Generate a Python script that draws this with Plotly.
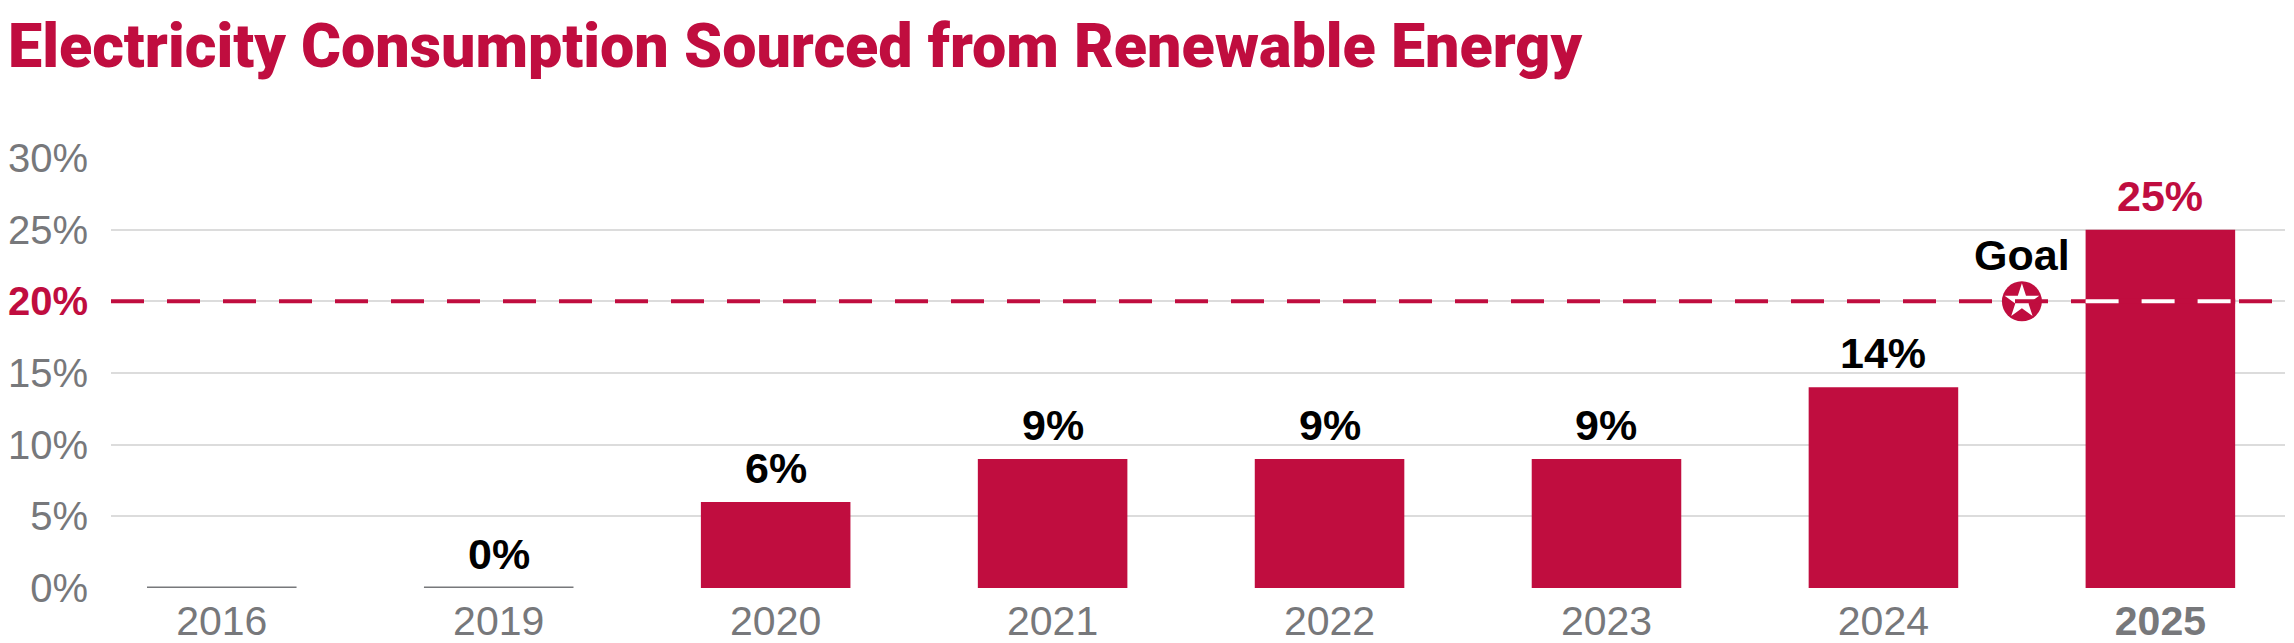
import plotly.graph_objects as go

# data
years = ["2016", "2019", "2020", "2021", "2022", "2023", "2024", "2025"]
share = [0, 0, 6, 9, 9, 9, 14, 25]
labels = ["", "0%", "6%", "9%", "9%", "9%", "14%", "25%"]
y_ticks = [0, 5, 10, 15, 20, 25, 30]
goal_value = 20
goal_text = "Goal"

crimson = "#C00D3F"
grey = "#77787B"
font = "Liberation Sans, Arial, Helvetica, sans-serif"
bar_w = 0.54
dash = "33px,23px"

xs = list(range(len(years)))
last = len(years) - 1

fig = go.Figure()
fig.add_bar(x=xs, y=share, width=bar_w, marker_color=crimson,
            marker_line_width=0, hoverinfo="skip")

# zero-value years show as a thin grey baseline
for i, v in enumerate(share):
    if v == 0:
        fig.add_shape(type="line", xref="x", yref="y",
                      x0=i - bar_w / 2, x1=i + bar_w / 2, y0=0, y1=0,
                      line=dict(color=grey, width=3), layer="above")

# value labels above the bars
for i, (v, t) in enumerate(zip(share, labels)):
    if t:
        col = crimson if i == last else "black"
        fig.add_annotation(x=i, y=v, text=f"<b>{t}</b>", showarrow=False,
                           yanchor="bottom", yshift=8,
                           font=dict(family=font, size=43, color=col))

# goal line: red dashes over the grid, white where it crosses the last bar
fig.add_shape(type="line", xref="paper", yref="y", x0=0, x1=1,
              y0=goal_value, y1=goal_value, layer="above",
              line=dict(color=crimson, width=4, dash=dash))
fig.add_shape(type="line", xref="x", yref="y",
              x0=last - bar_w / 2, x1=last + bar_w / 2,
              y0=goal_value, y1=goal_value, layer="above",
              line=dict(color=crimson, width=5))
fig.add_shape(type="line", xref="x", yref="y",
              x0=last - bar_w / 2, x1=last + bar_w / 2,
              y0=goal_value, y1=goal_value, layer="above",
              line=dict(color="white", width=4, dash=dash))

# goal marker between the last two bars
gx = last - 0.5
fig.add_scatter(x=[gx], y=[goal_value], mode="markers", hoverinfo="skip",
                marker=dict(symbol="circle", size=40, color=crimson,
                            line=dict(width=0)))
fig.add_scatter(x=[gx], y=[goal_value], mode="markers", hoverinfo="skip",
                marker=dict(symbol="star", size=26, color="white",
                            line=dict(width=0)))
fig.add_annotation(x=gx, y=goal_value, text=f"<b>{goal_text}</b>",
                   showarrow=False, yanchor="bottom", yshift=20,
                   font=dict(family=font, size=43, color="black"))

tick_text = []
for v in y_ticks:
    if v == goal_value:
        tick_text.append(f"<b><span style='color:{crimson}'>{v}%</span></b>")
    else:
        tick_text.append(f"{v}%")
x_text = [f"<b>{y}</b>" if i == last else y for i, y in enumerate(years)]

fig.update_layout(
    width=2294, height=643,
    margin=dict(l=103, r=17, t=150, b=63),
    plot_bgcolor="white", paper_bgcolor="white",
    showlegend=False,
    title=dict(text="Electricity Consumption Sourced from Renewable Energy",
               xref="container", x=0.0, xanchor="left",
               yref="container", y=0.975, yanchor="top", pad=dict(l=0, t=0),
               font=dict(family="Roboto, Liberation Sans, sans-serif", weight=900,
                         size=61, color=crimson)),
    xaxis=dict(range=[-0.4, 7.45], tickvals=xs, ticktext=x_text,
               showgrid=False, zeroline=False, showline=False, ticks="",
               automargin=False, ticklabelstandoff=5,
               tickfont=dict(family=font, size=41, color=grey)),
    yaxis=dict(range=[0, 30], tickvals=y_ticks, ticktext=tick_text,
               showgrid=True, gridcolor="#DCDCDC", gridwidth=2,
               zeroline=False, showline=False, ticks="",
               automargin=False, ticklabelstandoff=22,
               tickfont=dict(family=font, size=40, color=grey)),
)

fig.write_html("out.html")
